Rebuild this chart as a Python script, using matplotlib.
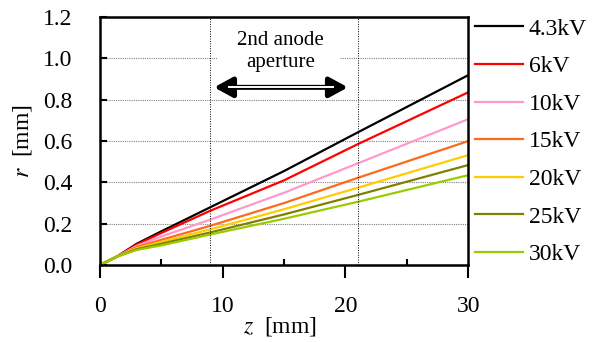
import matplotlib
matplotlib.use('Agg')
import matplotlib.pyplot as plt
from matplotlib.patches import Rectangle

plt.rcParams['font.family'] = ['Liberation Serif', 'DejaVu Serif']
plt.rcParams['mathtext.fontset'] = 'stix'

# beam radius r [mm] along z [mm] for each accelerating voltage
z = [0, 1.5, 3, 5, 9, 15, 21, 30]
r_43kv = [0, 0.045, 0.103, 0.163, 0.280, 0.455, 0.642, 0.919]
r_6kv = [0, 0.045, 0.099, 0.155, 0.263, 0.410, 0.585, 0.836]
r_10kv = [0, 0.044, 0.093, 0.138, 0.220, 0.350, 0.492, 0.706]
r_15kv = [0, 0.044, 0.087, 0.122, 0.190, 0.300, 0.422, 0.600]
r_20kv = [0, 0.044, 0.082, 0.112, 0.173, 0.270, 0.374, 0.532]
r_25kv = [0, 0.043, 0.077, 0.103, 0.158, 0.245, 0.339, 0.484]
r_30kv = [0, 0.043, 0.073, 0.095, 0.148, 0.224, 0.306, 0.435]

labels = ['4.3kV', '6kV', '10kV', '15kV', '20kV', '25kV', '30kV']
series = [r_43kv, r_6kv, r_10kv, r_15kv, r_20kv, r_25kv, r_30kv]
colors = ['black', '#ff0000', '#ff99cc', '#ff6a1a', '#ffcc00', '#808000', '#99cc00']

aperture = [9, 21]

fig = plt.figure(figsize=(5.98, 3.42), dpi=100)
ax = fig.add_axes([0.167, 0.225, 0.616, 0.725])

for r, c, lab in zip(series, colors, labels):
    ax.plot(z, r, color=c, lw=1.6, label=lab)

ax.set_xlim(0, 30)
ax.set_ylim(0, 1.2)
ax.set_xticks([0, 10, 20, 30])
ax.set_xticks([5, 15, 25], minor=True)
ax.set_yticks([0, 0.2, 0.4, 0.6, 0.8, 1.0, 1.2])
ax.set_yticklabels(['0.0', '0.2', '0.4', '0.6', '0.8', '1.0', '1.2'])
ax.tick_params(axis='x', which='major', direction='out', length=9, width=1.5, labelsize=17, pad=13)
ax.tick_params(axis='x', which='minor', direction='in', length=4, width=1.5)
ax.tick_params(axis='y', direction='in', length=5, width=1.5, labelsize=17, pad=20)
for s in ax.spines.values():
    s.set_linewidth(1.8)

ax.yaxis.grid(True, color='gray', linestyle=(0, (1, 1)), lw=0.8)
for xa in aperture:
    ax.axvline(xa, color='black', linestyle=(0, (1, 1.5)), lw=0.7)

# white gap in the grid behind the label
ax.add_patch(Rectangle((9.55, 0.96), 10.0, 0.16, facecolor='white', edgecolor='none', zorder=1.8))
ax.text(14.7, 1.035, '2nd anode\naperture', ha='center', va='center', fontsize=15,
        linespacing=1.2, zorder=3)
ax.annotate('', xy=(9.3, 0.86), xytext=(20.2, 0.86),
            arrowprops=dict(arrowstyle='<|-|>,head_length=0.55,head_width=0.3',
                            mutation_scale=20, color='black', lw=3.6,
                            shrinkA=0, shrinkB=0))
ax.plot([10.4, 19.1], [0.86, 0.86], color='white', lw=1.4, solid_capstyle='butt', zorder=5)

ax.set_xlabel(r'$z$  [mm]', fontsize=17)
ax.set_ylabel(r'$r$  [mm]', fontsize=17)
ax.xaxis.set_label_coords(0.49, -0.2)
ax.yaxis.set_label_coords(-0.18, 0.5)

fig.legend(loc='upper left', bbox_to_anchor=(475 / 598, 0.947), bbox_transform=fig.transFigure,
           frameon=False, fontsize=17, handlelength=2.03, handletextpad=0.25,
           labelspacing=0.68, borderaxespad=0, borderpad=0)

fig.savefig('out.png', dpi=100)
